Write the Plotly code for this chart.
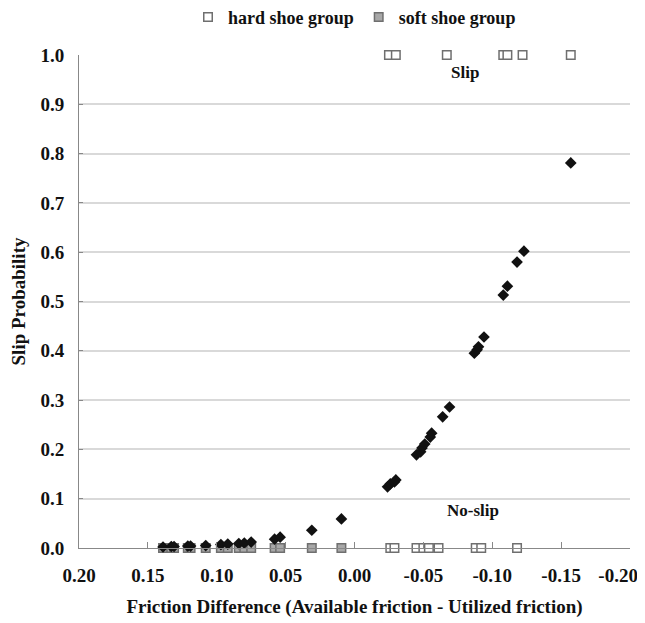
import plotly.graph_objects as go

# Hard shoe group: observed outcomes (0 = no slip, 1 = slip)
hard_x = [-0.026, -0.029, -0.045, -0.050, -0.054, -0.061, -0.088, -0.092, -0.118,
          -0.025, -0.030, -0.067, -0.108, -0.111, -0.122, -0.157]
hard_y = [0, 0, 0, 0, 0, 0, 0, 0, 0,
          1, 1, 1, 1, 1, 1, 1]

# Soft shoe group: observed outcomes (all no slip)
soft_x = [0.139, 0.133, 0.131, 0.121, 0.119, 0.108, 0.097, 0.092, 0.084, 0.080,
          0.075, 0.058, 0.054, 0.031, 0.0095]
soft_y = [0] * len(soft_x)

# Predicted slip probability (diamonds)
prob_x = [0.139, 0.133, 0.131, 0.121, 0.119, 0.108, 0.097, 0.092, 0.084, 0.080,
          0.075, 0.058, 0.054, 0.031, 0.0095,
          -0.024, -0.026, -0.029, -0.030,
          -0.045, -0.048, -0.049, -0.051, -0.055, -0.056, -0.064, -0.069,
          -0.087, -0.089, -0.090, -0.094,
          -0.108, -0.111, -0.118, -0.123, -0.157]
prob_y = [0.002, 0.003, 0.003, 0.004, 0.004, 0.005, 0.007, 0.008, 0.009, 0.010,
          0.012, 0.018, 0.022, 0.036, 0.059,
          0.124, 0.130, 0.134, 0.138,
          0.189, 0.195, 0.203, 0.211, 0.225, 0.233, 0.266, 0.286,
          0.395, 0.402, 0.408, 0.428,
          0.513, 0.531, 0.580, 0.602, 0.781]

x_ticks = [0.20, 0.15, 0.10, 0.05, 0.00, -0.05, -0.10, -0.15, -0.20]
x_tick_labels = ["0.20", "0.15", "0.10", "0.05", "0.00", "-0.05", "-0.10", "-0.15", "-0.20"]
y_ticks = [0.0, 0.1, 0.2, 0.3, 0.4, 0.5, 0.6, 0.7, 0.8, 0.9, 1.0]
y_tick_labels = ["0.0", "0.1", "0.2", "0.3", "0.4", "0.5", "0.6", "0.7", "0.8", "0.9", "1.0"]

FONT = "Liberation Serif"

x_text = ["<b>%s</b>" % t for t in x_tick_labels]
# last label is pulled inward so it stays inside the picture (as in the original)
x_text[-1] = x_text[-1] + "\u00a0" * 5

fig = go.Figure()
fig.add_trace(go.Scatter(
    x=hard_x, y=hard_y, mode="markers", name="<b>hard shoe group</b>",
    marker=dict(symbol="square", size=8.5, color="white",
                line=dict(color="#6f6f6f", width=1.5)),
    cliponaxis=False,
))
fig.add_trace(go.Scatter(
    x=soft_x, y=soft_y, mode="markers", name="<b>soft shoe group</b>",
    marker=dict(symbol="square", size=8.5, color="#a8a8a8",
                line=dict(color="#6f6f6f", width=1.5)),
    cliponaxis=False,
))
fig.add_trace(go.Scatter(
    x=prob_x, y=prob_y, mode="markers", name="probability", showlegend=False,
    marker=dict(symbol="diamond", size=9, color="#111111"),
    cliponaxis=False,
))

fig.add_annotation(x=-0.080, y=0.965, text="<b>Slip</b>", showarrow=False,
                   xref="x", yref="y", yanchor="middle",
                   font=dict(family=FONT, size=17, color="#111"))
fig.add_annotation(x=-0.086, y=0.077, text="<b>No-slip</b>", showarrow=False,
                   xref="x", yref="y", yanchor="middle",
                   font=dict(family=FONT, size=17, color="#111"))

fig.update_layout(
    width=637, height=615,
    margin=dict(l=71, r=15, t=47, b=75, autoexpand=False),
    paper_bgcolor="white", plot_bgcolor="white",
    font=dict(family=FONT, size=19, color="#111"),
    legend=dict(orientation="h", x=0.5, xanchor="center", y=0.985, yanchor="middle",
                yref="container", font=dict(family=FONT, size=18, color="#111"),
                tracegroupgap=0),
    xaxis=dict(
        range=[0.20, -0.20], autorange=False, automargin=False,
        tickvals=x_ticks, ticktext=x_text,
        ticklabeloverflow="allow", ticklabelstandoff=10,
        showgrid=False, zeroline=False,
        showline=True, linecolor="#888", linewidth=1,
        ticks="inside", ticklen=6, tickcolor="#888",
        title=dict(text="<b>Friction Difference (Available friction - Utilized friction)</b>",
                   font=dict(family=FONT, size=19), standoff=14),
        tickfont=dict(family=FONT, size=19),
    ),
    yaxis=dict(
        range=[0, 1.0], autorange=False, automargin=False,
        tickvals=y_ticks, ticktext=["<b>%s</b>" % t for t in y_tick_labels],
        ticklabeloverflow="allow", ticklabelstandoff=10,
        showgrid=True, gridcolor="#d9d9d9", gridwidth=1.5,
        zeroline=False,
        showline=True, linecolor="#888", linewidth=1,
        ticks="inside", ticklen=4, tickcolor="#888",
        title=dict(text="<b>Slip Probability</b>", font=dict(family=FONT, size=19), standoff=10),
        tickfont=dict(family=FONT, size=19),
    ),
)

fig.write_html("out.html")
